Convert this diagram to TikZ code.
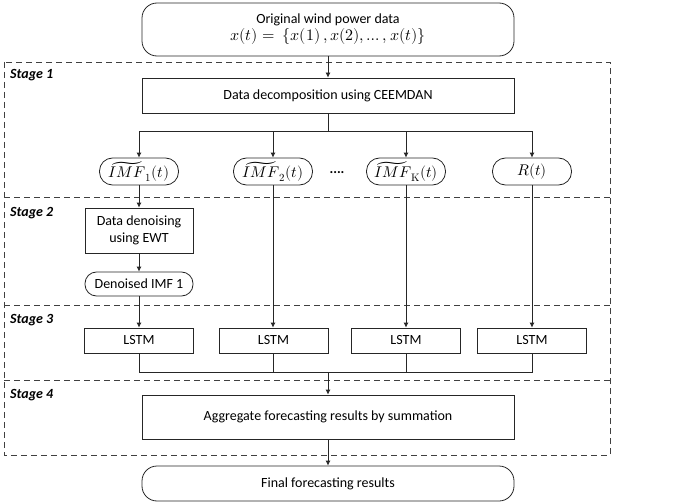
\documentclass[tikz,border=0pt]{standalone}
\usepackage{fontspec}
\usepackage{unicode-math}
\setmainfont{Carlito}
\setmathfont{Latin Modern Math}
\usetikzlibrary{
    arrows.meta,
    calc,
    positioning,
}
\tikzstyle{rect}=[draw=black!85,rectangle,line width=0.8pt,font=\fontsize{14}{17}\selectfont,inner sep=0pt,align=center]
\tikzstyle{rbox}=[rect,rounded corners=13pt]
\tikzstyle{imfbox}=[rbox,minimum width=79pt,minimum height=27pt,font=\fontsize{15.5}{17}\selectfont]
\tikzstyle{lstmbox}=[rect,minimum width=109pt,minimum height=25pt]
\tikzstyle{stagebox}=[draw=black!75,dash pattern=on 6pt off 4pt,line width=0.9pt]
\tikzstyle{stagelab}=[font=\fontsize{14}{17}\selectfont\bfseries\itshape,anchor=west,inner sep=0pt]
\tikzstyle{arr}=[draw=black!85,line width=0.8pt,-{Latex[length=5pt,width=5pt]}]
\tikzstyle{line}=[draw=black!85,line width=0.8pt]

\begin{document}
\begin{tikzpicture}[x=1pt,y=-1pt]
                \useasboundingbox (0,0) rectangle (697,503);
                \draw[stagebox] (4,62) rectangle (610,455);
                \draw[stagebox] (4,197) -- (610,197);
                \draw[stagebox] (4,305) -- (610,305);
                \draw[stagebox] (4,380) -- (610,380);
                \node[stagelab] at (10,75) {Stage 1};
                \node[stagelab] at (10,213) {Stage 2};
                \node[stagelab] at (10,320) {Stage 3};
                \node[stagelab] at (10,395) {Stage 4};

                \node[rbox,rounded corners=15pt,minimum width=372pt,minimum height=53pt] (orig) at (328,29.5)
                    {Original wind power data\\[0pt] {\fontsize{16}{17}\selectfont$x(t)=\ \{x(1)\,,x(2),\ldots,x(t)\}$}};
                \node[rect,minimum width=372pt,minimum height=35pt] (ceemdan) at (328,95.5) {Data decomposition using CEEMDAN};
                \coordinate (split) at (328,131);
                \node[imfbox] (imf1) at (139,171.5) {$\widetilde{IMF}_1(t)$};
                \node[imfbox] (imf2) at (273,171.5) {$\widetilde{IMF}_2(t)$};
                \node[imfbox] (imfk) at (406,171.5) {$\widetilde{IMF}_{\symup{K}}(t)$};
                \node[imfbox] (res) at (532,171.5) {$R(t)$};
                \node[font=\fontsize{14}{17}\selectfont\bfseries] (dots) at (337,173) {....};
                \node[rect,minimum width=108pt,minimum height=45pt] (denoise) at (139,230.5) {Data denoising\\using EWT};
                \node[rbox,rounded corners=11.5pt,minimum width=108pt,minimum height=24pt] (denimf) at (139,284) {Denoised IMF 1};
                \node[lstmbox] (lstm1) at (139,340.5) {LSTM};
                \node[lstmbox] (lstm2) at (273.5,340.5) {LSTM};
                \node[lstmbox] (lstm3) at (406,340.5) {LSTM};
                \node[lstmbox] (lstm4) at (532,340.5) {LSTM};
                \coordinate (merge) at (328,372);
                \node[rect,minimum width=372pt,minimum height=44pt] (aggr) at (328,417) {Aggregate forecasting results by summation};
                \node[rbox,rounded corners=15pt,minimum width=372pt,minimum height=35pt] (final) at (328,483.5) {Final forecasting results};

                \draw[arr] (orig) -- (ceemdan);
                \draw[line] (ceemdan) -- (split);
                \draw[arr] (split) -| (imf1);
                \draw[arr] (split) -| (imf2);
                \draw[arr] (split) -| (imfk);
                \draw[arr] (split) -| (res);
                \draw[arr] (imf1) -- (denoise);
                \draw[arr] (denoise) -- (denimf);
                \draw[arr] (denimf) -- (lstm1);
                \draw[arr] (imf2) -- (imf2 |- lstm2.north);
                \draw[arr] (imfk) -- (lstm3);
                \draw[arr] (res) -- (lstm4);
                \draw[line] (lstm1) |- (merge);
                \draw[line] (lstm2.south -| imf2) |- (merge);
                \draw[line] (lstm3) |- (merge);
                \draw[line] (lstm4) |- (merge);
                \draw[arr] (merge) -- (aggr);
                \draw[arr] (aggr) -- (final);
            \end{tikzpicture}
\end{document}
